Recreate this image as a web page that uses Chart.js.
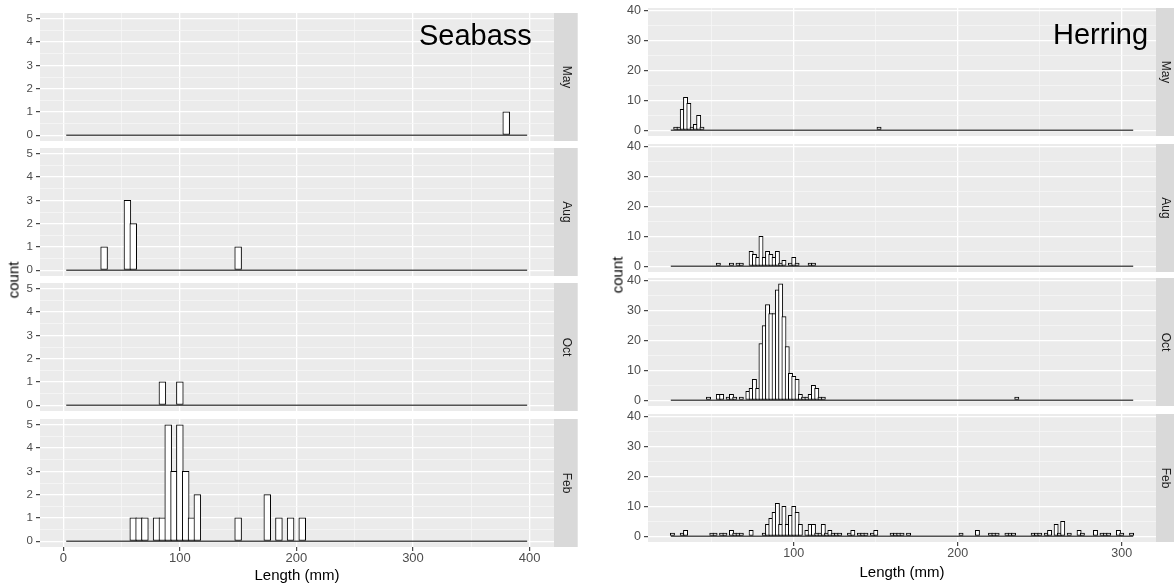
<!DOCTYPE html>
<html>
<head>
<meta charset="utf-8">
<script src="https://cdn.jsdelivr.net/npm/chart.js@4.4.0/dist/chart.umd.min.js"></script>
<style>
  body { margin: 0; width: 1174px; height: 587px; overflow: hidden; position: relative; background: #fff;
         font-family: "Liberation Sans", Arial, sans-serif; }
  canvas { position: absolute; z-index: 1; }
  .lbl { position: absolute; white-space: nowrap; color: #000; z-index: 5; }
  .ytitle { font-size: 15px; transform: translate(-50%, -50%) rotate(-90deg); }
  .species { font-size: 29px; line-height: 29px; }
</style>
</head>
<body>
<div class="lbl ytitle" style="left:13px; top:280px;">count</div>
<div class="lbl ytitle" style="left:617px; top:275px;">count</div>
<div class="lbl species" style="left:419px; top:21px;">Seabass</div>
<div class="lbl species" style="left:1053px; top:20px;">Herring</div>
<script>
// ---- data: bin centres (mm) and counts ----
var months = ['May', 'Aug', 'Oct', 'Feb'];

var seaMayLen = [380];
var seaMayCount = [1];
var seaAugLen = [35, 55, 60, 150];
var seaAugCount = [1, 3, 2, 1];
var seaOctLen = [85, 100];
var seaOctCount = [1, 1];
var seaFebLen = [60, 65, 70, 80, 85, 90, 95, 100, 105, 110, 115, 150, 175, 185, 195, 205];
var seaFebCount = [1, 1, 1, 1, 1, 5, 3, 5, 3, 1, 2, 1, 2, 1, 1, 1];

var herMayLen = [28, 30, 32, 34, 36, 38, 40, 42, 44, 152];
var herMayCount = [1, 1, 7, 11, 9, 1, 2, 5, 1, 1];
var herAugLen = [54, 62, 66, 68, 74, 76, 78, 80, 82, 84, 86, 88, 90, 92, 94, 98, 100, 102, 110, 112];
var herAugCount = [1, 1, 1, 1, 5, 4, 3, 10, 3, 5, 4, 3, 5, 1, 2, 1, 3, 1, 1, 1];
var herOctLen = [48, 54, 56, 60, 62, 64, 68, 72, 74, 76, 78, 80, 82, 84, 86, 88, 90, 92, 94, 96, 98, 100,
                 102, 104, 106, 108, 110, 112, 114, 116, 118, 236];
var herOctCount = [1, 2, 2, 1, 2, 1, 1, 3, 4, 7, 4, 19, 25, 32, 29, 29, 37, 39, 28, 18, 9, 8,
                   7, 2, 1, 1, 2, 5, 4, 1, 1, 1];
var herFebLen = [26, 32, 34, 50, 52, 56, 58, 62, 64, 66, 68, 74, 82, 84, 86, 88, 90, 92, 94, 96, 98, 100,
                 102, 104, 108, 110, 112, 114, 116, 118, 120, 122, 124, 126, 128, 134, 136, 140, 142, 144,
                 148, 150, 160, 162, 164, 166, 170, 202, 212, 220, 222, 224, 230, 232, 234, 246, 248, 250,
                 254, 256, 260, 262, 264, 268, 274, 276, 284, 288, 290, 292, 298, 300, 306];
var herFebCount = [1, 1, 2, 1, 1, 1, 1, 2, 1, 1, 1, 2, 1, 4, 6, 8, 11, 4, 10, 4, 7, 10,
                   8, 4, 2, 4, 4, 1, 1, 4, 1, 2, 1, 1, 1, 1, 2, 1, 1, 1,
                   1, 2, 1, 1, 1, 1, 1, 1, 2, 1, 1, 1, 1, 1, 1, 1, 1, 1,
                   1, 2, 4, 1, 5, 1, 2, 1, 2, 1, 1, 1, 2, 1, 1];

// bin width and binned data range (zero-count bins drawn as a flat line)
var seaBin = 5;
var seaRange = [2.5, 398];
var herBin = 2;
var herRange = [25, 307];

// axes
var seaX = [-20, 421];
var seaY = [-0.25, 5.25];
var seaXLabels = [0, 100, 200, 300, 400];
var seaXGrid = [0, 50, 100, 150, 200, 250, 300, 350, 400];
var seaYLabels = [0, 1, 2, 3, 4, 5];
var seaYGrid = [0, 0.5, 1, 1.5, 2, 2.5, 3, 3.5, 4, 4.5, 5];

var herX = [11.1, 320.9];
var herY = [-1.95, 40.95];
var herXLabels = [100, 200, 300];
var herXGrid = [50, 100, 150, 200, 250, 300];
var herYLabels = [0, 10, 20, 30, 40];
var herYGrid = [0, 5, 10, 15, 20, 25, 30, 35, 40];

// ---- layout ----
Chart.defaults.font.family = '"Liberation Sans", Arial, sans-serif';

var seaBox = { left: 0, width: 580, tops: [13, 148, 283, 419], panelH: 128, axisH: 40, axisW: 40,
               padRight: 26, strip: 23.7, yFont: 11.5, xFont: 13, titlePad: 2 };
var herBox = { left: 580, width: 594, tops: [8, 144, 278, 414], panelH: 128, axisH: 45, axisW: 68,
               padRight: 18, strip: 18, yFont: 12.5, xFont: 12.5, titlePad: 5 };
var PADTOP = 6;

function isIn(list, v) {
  for (var i = 0; i < list.length; i++) if (Math.abs(list[i] - v) < 1e-9) return true;
  return false;
}

function gridOpts(labels, drawTicks) {
  return {
    offset: false,
    drawTicks: drawTicks,
    tickLength: 4,
    color: function (c) { return c.tick && isIn(labels, c.tick.value) ? '#FFFFFF' : '#F6F6F6'; },
    lineWidth: function (c) { return c.tick && isIn(labels, c.tick.value) ? 1.3 : 0.8; },
    tickColor: function (c) { return c.tick && isIn(labels, c.tick.value) ? '#333333' : 'rgba(0,0,0,0)'; },
    tickWidth: 1.1
  };
}

function stripPlugin(label, w) {
  return {
    id: 'panelDeco',
    beforeDraw: function (chart) {
      var a = chart.chartArea, c = chart.ctx;
      c.save();
      c.fillStyle = '#EBEBEB';
      c.fillRect(a.left, a.top, a.right - a.left, a.bottom - a.top);
      c.restore();
    },
    afterDraw: function (chart) {
      var a = chart.chartArea, c = chart.ctx;
      c.save();
      c.fillStyle = '#D9D9D9';
      c.fillRect(a.right, a.top, w, a.bottom - a.top);
      c.translate(a.right + w / 2, (a.top + a.bottom) / 2);
      c.rotate(Math.PI / 2);
      c.fillStyle = '#1A1A1A';
      c.font = '12px "Liberation Sans", Arial, sans-serif';
      c.textAlign = 'center';
      c.textBaseline = 'middle';
      c.fillText(label, 0, 0);
      c.restore();
    }
  };
}

function makePanel(box, sc, k, lens, counts) {
  var bottom = k === 3;
  var cv = document.createElement('canvas');
  cv.width = box.width;
  cv.height = PADTOP + box.panelH + (bottom ? box.axisH : 0);
  cv.style.left = box.left + 'px';
  cv.style.top = (box.tops[k] - PADTOP) + 'px';
  document.body.appendChild(cv);

  var bars = lens.map(function (v, i) { return { x: v, y: counts[i] }; });

  new Chart(cv, {
    type: 'bar',
    data: {
      datasets: [{
        data: bars,
        backgroundColor: '#FFFFFF',
        borderColor: '#000000',
        borderWidth: 1,
        borderSkipped: false,
        barThickness: function (c) {
          var s = c.chart.scales.x;
          var px = Math.abs(s.getPixelForValue(sc.bin) - s.getPixelForValue(0));
          return isFinite(px) && px > 0 ? px + 1 : 3;
        },
        order: 1
      }, {
        type: 'line',
        data: [{ x: sc.range[0], y: 0 }, { x: sc.range[1], y: 0 }],
        borderColor: '#000000',
        borderWidth: 1,
        pointRadius: 0,
        order: 2
      }]
    },
    options: {
      responsive: false,
      animation: false,
      events: [],
      layout: { padding: { left: 0, right: box.padRight, top: PADTOP, bottom: 0 } },
      plugins: { legend: { display: false }, tooltip: { enabled: false } },
      scales: {
        x: {
          type: 'linear',
          min: sc.x[0], max: sc.x[1],
          offset: false,
          afterBuildTicks: function (s) { s.ticks = sc.xGrid.map(function (v) { return { value: v }; }); },
          afterFit: function (s) { s.height = bottom ? box.axisH : 0; s.paddingLeft = 0; s.paddingRight = 0; },
          grid: gridOpts(sc.xLabels, bottom),
          border: { display: false },
          ticks: {
            display: bottom, autoSkip: false, maxRotation: 0, padding: 0,
            color: '#4D4D4D', font: { size: box.xFont },
            callback: function (v) { return isIn(sc.xLabels, v) ? String(v) : ''; }
          },
          title: {
            display: bottom, text: 'Length (mm)', color: '#000000',
            font: { size: 15 }, padding: { top: 0, bottom: box.titlePad }
          }
        },
        y: {
          type: 'linear',
          min: sc.y[0], max: sc.y[1],
          afterBuildTicks: function (s) { s.ticks = sc.yGrid.map(function (v) { return { value: v }; }); },
          afterFit: function (s) { s.width = box.axisW; s.paddingTop = 0; s.paddingBottom = 0; },
          grid: gridOpts(sc.yLabels, true),
          border: { display: false },
          ticks: {
            autoSkip: false, padding: 3,
            color: '#4D4D4D', font: { size: box.yFont },
            callback: function (v) { return isIn(sc.yLabels, v) ? String(v) : ''; }
          }
        }
      }
    },
    plugins: [stripPlugin(months[k], box.strip)]
  });
}

var seaScale = { bin: seaBin, range: seaRange, x: seaX, y: seaY,
                 xLabels: seaXLabels, xGrid: seaXGrid, yLabels: seaYLabels, yGrid: seaYGrid };
var herScale = { bin: herBin, range: herRange, x: herX, y: herY,
                 xLabels: herXLabels, xGrid: herXGrid, yLabels: herYLabels, yGrid: herYGrid };

makePanel(seaBox, seaScale, 0, seaMayLen, seaMayCount);
makePanel(seaBox, seaScale, 1, seaAugLen, seaAugCount);
makePanel(seaBox, seaScale, 2, seaOctLen, seaOctCount);
makePanel(seaBox, seaScale, 3, seaFebLen, seaFebCount);

makePanel(herBox, herScale, 0, herMayLen, herMayCount);
makePanel(herBox, herScale, 1, herAugLen, herAugCount);
makePanel(herBox, herScale, 2, herOctLen, herOctCount);
makePanel(herBox, herScale, 3, herFebLen, herFebCount);
</script>
</body>
</html>
